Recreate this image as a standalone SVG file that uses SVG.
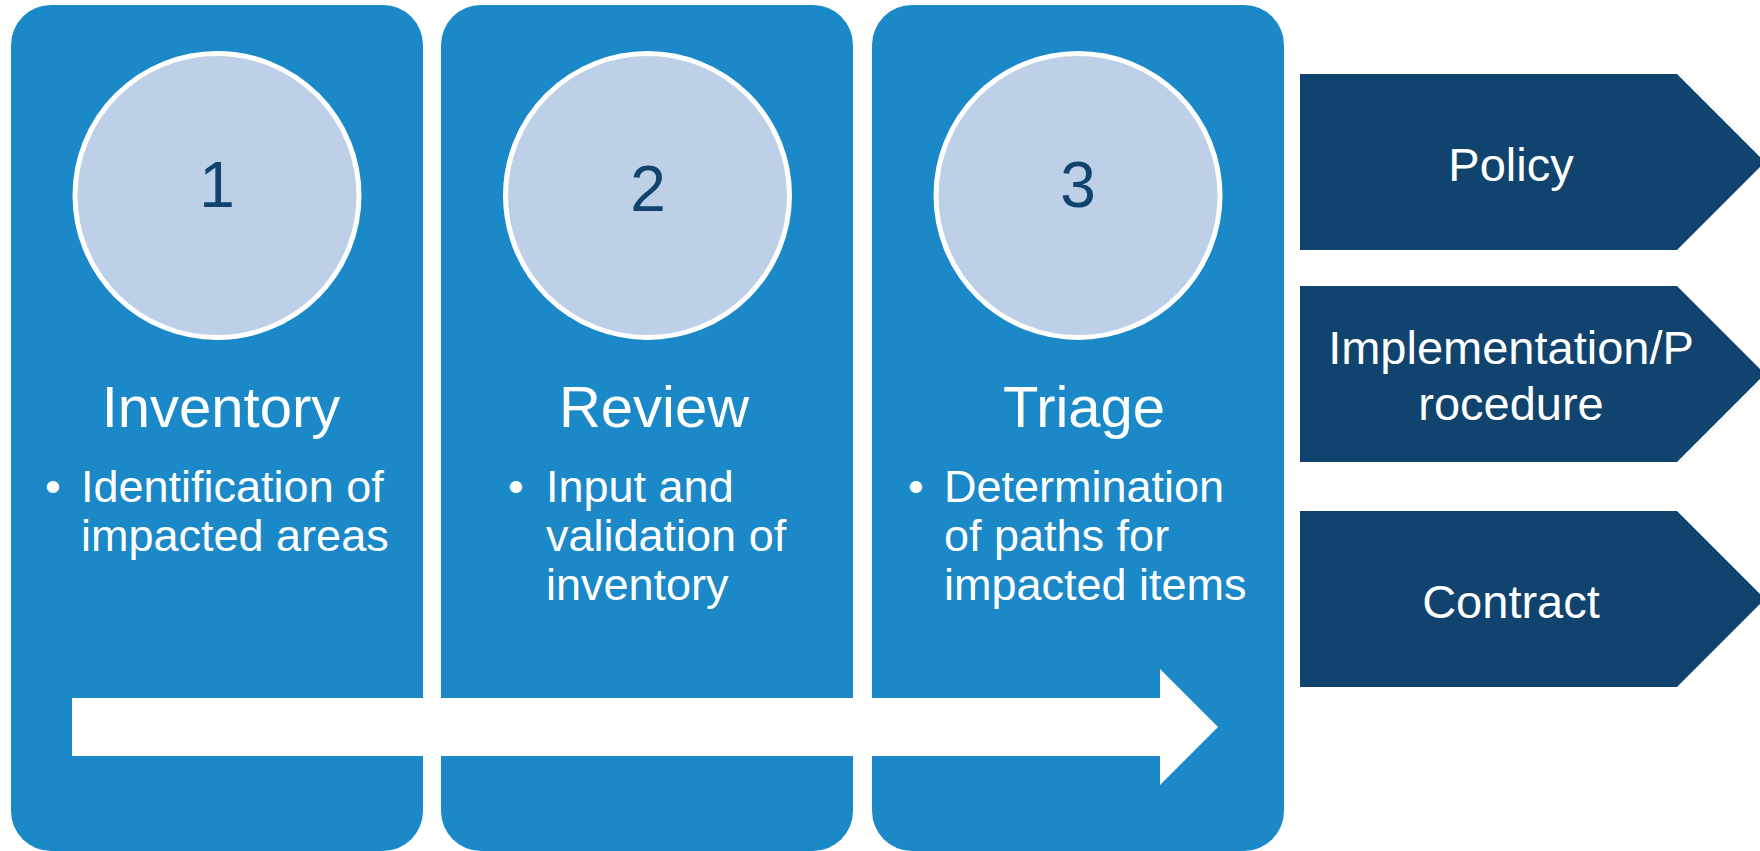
<svg xmlns="http://www.w3.org/2000/svg" width="1760" height="851" viewBox="0 0 1760 851">
  <style>
    .col { fill: #1B88C8; }
    .badge { fill: #BDD0E7; stroke: #FFFFFF; stroke-width: 5; }
    .num { font-family: "Liberation Sans", Arial, sans-serif; font-size: 64px; fill: #10436D; text-anchor: middle; }
    .title { font-family: "Liberation Sans", Arial, sans-serif; font-size: 58px; fill: #FFFFFF; text-anchor: middle; }
    .body { font-family: "Liberation Sans", Arial, sans-serif; font-size: 45px; fill: #FFFFFF; }
    .bullet { font-family: "Liberation Sans", Arial, sans-serif; font-size: 45px; fill: #FFFFFF; text-anchor: middle; }
    .tag { fill: #10436D; }
    .tagText { font-family: "Liberation Sans", Arial, sans-serif; font-size: 47px; fill: #FFFFFF; text-anchor: middle; }
    .flow { fill: #FFFFFF; }
  </style>

  <rect width="1760" height="851" fill="#FFFFFF"/>

  <!-- step 1 -->
  <g id="step-inventory">
    <rect class="col" x="11" y="5" width="412" height="846" rx="40" ry="40"/>
    <circle class="badge" cx="217" cy="195.5" r="142"/>
    <text class="num" x="217" y="207">1</text>
    <text class="title" x="221" y="427">Inventory</text>
    <text class="bullet" x="53" y="502">•</text>
    <text class="body" x="81" y="502">Identification of</text>
    <text class="body" x="81" y="551">impacted areas</text>
  </g>

  <!-- step 2 -->
  <g id="step-review">
    <rect class="col" x="441" y="5" width="412" height="846" rx="40" ry="40"/>
    <circle class="badge" cx="647.5" cy="195.5" r="142"/>
    <text class="num" x="648" y="211">2</text>
    <text class="title" x="654" y="427">Review</text>
    <text class="bullet" x="516" y="502">•</text>
    <text class="body" x="546" y="502">Input and</text>
    <text class="body" x="546" y="551">validation of</text>
    <text class="body" x="546" y="600">inventory</text>
  </g>

  <!-- step 3 -->
  <g id="step-triage">
    <rect class="col" x="872" y="5" width="412" height="846" rx="40" ry="40"/>
    <circle class="badge" cx="1078" cy="195.5" r="142"/>
    <text class="num" x="1078" y="207">3</text>
    <text class="title" x="1084" y="427">Triage</text>
    <text class="bullet" x="916" y="502">•</text>
    <text class="body" x="944" y="502">Determination</text>
    <text class="body" x="944" y="551">of paths for</text>
    <text class="body" x="944" y="600">impacted items</text>
  </g>

  <!-- process arrow running across the three steps -->
  <g id="connectors">
    <polygon class="flow" points="72,698 1160,698 1160,669 1218,727 1160,785 1160,756 72,756"/>
  </g>

  <!-- outcome tags -->
  <g id="tag-policy">
    <polygon class="tag" points="1300,74 1677,74 1765,162 1677,250 1300,250"/>
    <text class="tagText" x="1511" y="181">Policy</text>
  </g>

  <g id="tag-implementation">
    <polygon class="tag" points="1300,286 1677,286 1765,374 1677,462 1300,462"/>
    <text class="tagText" x="1511" y="364">Implementation/P</text>
    <text class="tagText" x="1511" y="420">rocedure</text>
  </g>

  <g id="tag-contract">
    <polygon class="tag" points="1300,511 1677,511 1765,599 1677,687 1300,687"/>
    <text class="tagText" x="1511" y="618">Contract</text>
  </g>
</svg>
